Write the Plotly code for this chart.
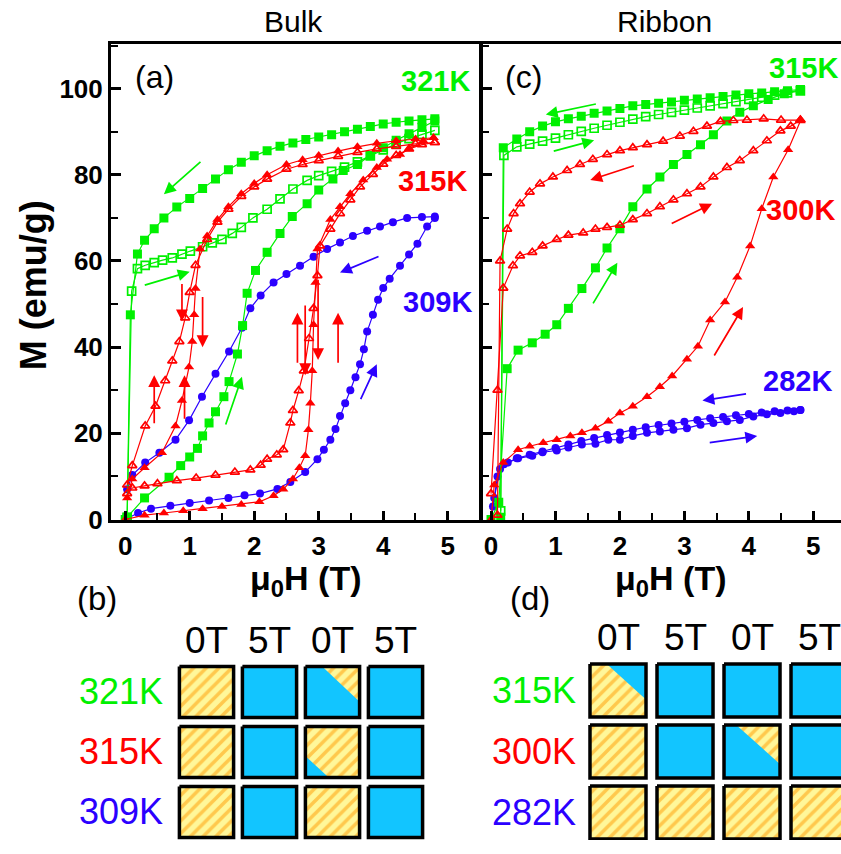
import plotly.graph_objects as go

W, H = 841, 854
def px(x): return x / W
def py(y): return 1 - y / H

GREEN = "#00F000"
RED = "#FF0000"
BLUE = "#2B00FF"
CYAN = "#12C5FF"
HATCH_BG = "#FFF79A"
HATCH_FG = "#FF9A00"
FONT = "Liberation Sans, Arial, sans-serif"

# ---------------- Bulk (a) ----------------
b321_vir_x = [0.0, 0.3, 0.68, 0.86, 1.0, 1.12, 1.2, 1.3, 1.4, 1.53, 1.61, 1.74, 1.82, 1.89, 2.02, 2.2, 2.4, 2.59, 2.82, 3.0, 3.22, 3.38, 3.6, 3.8, 4.0, 4.2, 4.4, 4.6, 4.8]
b321_vir_y = [0.0, 5.0, 9.8, 12.5, 14.5, 16.5, 19.4, 22.4, 25.0, 28.5, 32.0, 38.4, 45.0, 52.5, 57.8, 62.0, 66.4, 70.3, 73.3, 76.5, 79.0, 81.0, 82.4, 84.5, 86.3, 88.0, 89.5, 91.0, 92.5]
b321_dec_x = [4.8, 4.6, 4.4, 4.2, 4.0, 3.8, 3.6, 3.4, 3.2, 3.0, 2.8, 2.6, 2.4, 2.2, 2.0, 1.8, 1.6, 1.4, 1.2, 1.0, 0.8, 0.6, 0.45, 0.3, 0.19, 0.08, 0.03]
b321_dec_y = [93.0, 92.8, 92.5, 92.2, 91.8, 91.2, 90.6, 90.0, 89.3, 88.8, 88.2, 87.4, 86.6, 85.6, 84.4, 82.9, 81.2, 79.0, 76.8, 74.5, 72.5, 70.0, 67.5, 64.8, 61.6, 47.5, 0.5]
b321_open_x = [0.03, 0.1, 0.19, 0.31, 0.45, 0.58, 0.73, 0.88, 1.01, 1.2, 1.35, 1.5, 1.66, 1.8, 1.98, 2.2, 2.4, 2.6, 2.82, 3.0, 3.2, 3.4, 3.6, 3.8, 4.0, 4.2, 4.4, 4.6, 4.8]
b321_open_y = [0.5, 53.0, 58.2, 59.0, 59.6, 60.2, 60.7, 61.6, 62.3, 63.3, 64.2, 65.0, 66.4, 67.8, 70.0, 72.0, 74.4, 76.7, 78.7, 79.8, 80.8, 81.8, 83.0, 84.4, 85.8, 87.2, 88.4, 89.4, 90.3]

b315_vir_x = [0.0, 0.3, 0.6, 0.9, 1.2, 1.5, 1.8, 2.08, 2.3, 2.45, 2.6, 2.7, 2.79, 2.84, 2.87, 2.9, 2.92, 2.95, 2.98, 3.18, 3.33, 3.49, 3.69, 3.9, 4.06, 4.26, 4.4, 4.62, 4.78]
b315_vir_y = [0.0, 1.0, 1.5, 2.0, 2.5, 3.0, 3.5, 4.1, 5.5, 7.0, 9.4, 12.0, 14.8, 20.8, 27.0, 34.5, 45.2, 55.0, 62.8, 69.6, 72.6, 75.6, 78.8, 81.7, 83.6, 84.7, 86.0, 87.9, 88.6]
b315_dec_x = [4.78, 4.5, 4.2, 3.9, 3.6, 3.3, 3.0, 2.75, 2.5, 2.2, 2.0, 1.8, 1.6, 1.43, 1.27, 1.16, 1.09, 1.07, 1.04, 0.99, 0.88, 0.78, 0.57, 0.3, 0.11, 0.03]
b315_dec_y = [88.6, 88.3, 87.9, 87.3, 86.5, 85.5, 84.5, 83.5, 82.4, 80.0, 78.0, 75.6, 72.6, 69.6, 65.8, 62.8, 53.6, 47.5, 41.3, 35.4, 27.6, 21.7, 15.5, 12.0, 9.4, 5.0]
b315_open_inc_x = [0.03, 0.11, 0.3, 0.5, 0.8, 1.1, 1.4, 1.7, 1.94, 2.1, 2.2, 2.35, 2.45, 2.56, 2.6, 2.69, 2.77, 2.85, 2.92, 2.98, 3.02, 3.18, 3.33, 3.49, 3.64, 3.84, 4.0, 4.2, 4.4, 4.6, 4.8]
b315_open_inc_y = [6.0, 7.3, 7.8, 8.3, 9.0, 9.6, 10.3, 11.0, 11.5, 12.6, 14.0, 15.0, 16.2, 22.4, 25.3, 29.9, 34.5, 42.0, 49.0, 56.6, 63.5, 67.4, 71.0, 74.2, 77.2, 80.1, 82.5, 84.5, 86.0, 87.0, 87.5]
b315_open_dec_x = [4.8, 4.5, 4.2, 3.9, 3.6, 3.3, 3.0, 2.75, 2.5, 2.2, 2.0, 1.8, 1.6, 1.43, 1.27, 1.09, 1.0, 0.93, 0.84, 0.73, 0.62, 0.47, 0.31, 0.11, 0.03]
b315_open_dec_y = [87.5, 87.2, 86.6, 86.0, 85.2, 84.3, 83.3, 82.4, 81.3, 79.0, 77.2, 75.0, 72.0, 69.0, 65.0, 59.0, 52.7, 46.8, 41.3, 36.8, 32.2, 26.3, 21.7, 12.5, 8.0]

b309_inc_x = [0.0, 0.2, 0.4, 0.7, 1.0, 1.3, 1.6, 1.85, 2.09, 2.36, 2.56, 2.79, 2.98, 3.08, 3.18, 3.26, 3.33, 3.41, 3.49, 3.57, 3.64, 3.7, 3.75, 3.84, 3.92, 4.0, 4.1, 4.26, 4.4, 4.53, 4.68, 4.8]
b309_inc_y = [0.0, 1.5, 2.5, 3.2, 3.8, 4.4, 5.0, 5.6, 6.0, 7.1, 8.7, 11.0, 14.0, 16.2, 18.5, 21.0, 24.0, 27.0, 30.0, 33.0, 36.0, 39.5, 43.6, 47.5, 51.0, 53.7, 55.9, 58.9, 61.5, 64.0, 68.0, 70.0]
b309_dec_x = [4.8, 4.6, 4.37, 4.15, 3.95, 3.75, 3.53, 3.33, 3.13, 2.92, 2.71, 2.5, 2.3, 2.1, 1.94, 1.81, 1.61, 1.4, 1.19, 0.99, 0.78, 0.53, 0.31, 0.11, 0.03]
b309_dec_y = [70.3, 70.2, 70.0, 69.0, 68.0, 67.0, 65.8, 64.3, 62.8, 61.0, 58.9, 57.0, 55.0, 52.0, 49.0, 44.5, 39.0, 33.8, 28.5, 23.0, 18.5, 15.5, 13.2, 10.3, 7.0]

# ---------------- Ribbon (c) ----------------
r315_dec_x = [4.8, 4.6, 4.4, 4.2, 4.0, 3.8, 3.6, 3.4, 3.2, 3.0, 2.8, 2.6, 2.4, 2.2, 2.0, 1.8, 1.6, 1.4, 1.2, 1.0, 0.8, 0.6, 0.4, 0.19, 0.15]
r315_dec_y = [99.8, 99.5, 99.3, 99.0, 98.8, 98.5, 98.2, 97.9, 97.6, 97.3, 96.9, 96.6, 96.3, 96.0, 95.4, 94.8, 94.3, 93.6, 93.0, 92.3, 91.3, 90.0, 88.3, 86.3, 0.5]
r315_vir_x = [0.0, 0.12, 0.25, 0.42, 0.64, 0.84, 1.02, 1.2, 1.41, 1.62, 1.8, 2.0, 2.2, 2.42, 2.62, 2.83, 3.04, 3.25, 3.45, 3.66, 3.86, 4.07, 4.3, 4.55, 4.8]
r315_vir_y = [0.0, 4.0, 35.0, 39.3, 41.0, 43.0, 45.2, 49.0, 53.6, 58.4, 63.0, 67.5, 72.6, 76.7, 79.5, 82.4, 84.7, 87.0, 89.3, 92.5, 94.5, 96.0, 97.5, 98.8, 99.8]
r315_open_x = [0.15, 0.2, 0.4, 0.6, 0.8, 1.0, 1.2, 1.4, 1.6, 1.8, 2.0, 2.2, 2.4, 2.6, 2.8, 3.0, 3.2, 3.4, 3.6, 3.8, 4.0, 4.2, 4.4, 4.6, 4.8]
r315_open_y = [2.0, 84.5, 86.5, 87.1, 87.8, 88.5, 89.3, 90.1, 90.8, 91.5, 92.2, 92.9, 93.5, 94.0, 94.5, 95.0, 95.5, 96.0, 96.5, 97.0, 97.5, 98.0, 98.5, 99.0, 99.5]

r300_vir_x = [0.0, 0.05, 0.19, 0.42, 0.6, 0.81, 1.02, 1.23, 1.41, 1.62, 1.82, 2.0, 2.2, 2.42, 2.62, 2.81, 3.04, 3.21, 3.4, 3.63, 3.82, 4.02, 4.2, 4.38, 4.61, 4.8]
r300_vir_y = [0.0, 8.0, 13.2, 16.2, 17.0, 17.8, 18.5, 19.4, 20.1, 21.2, 22.8, 24.7, 26.3, 28.5, 30.8, 33.3, 37.2, 40.2, 46.3, 50.5, 56.2, 63.5, 72.1, 79.5, 85.8, 92.5]
r300_dec_x = [4.8, 4.5, 4.23, 3.97, 3.76, 3.56, 3.35, 3.14, 2.93, 2.67, 2.42, 2.2, 2.0, 1.8, 1.58, 1.38, 1.18, 0.96, 0.76, 0.6, 0.45, 0.35, 0.25, 0.14, 0.1]
r300_dec_y = [92.7, 92.7, 93.0, 92.7, 92.6, 92.4, 91.3, 90.1, 89.0, 87.8, 87.0, 86.3, 85.6, 84.7, 83.6, 82.4, 81.0, 79.5, 77.9, 76.0, 73.3, 71.0, 67.4, 60.0, 1.0]
r300_inc_x = [0.0, 0.1, 0.19, 0.34, 0.45, 0.64, 0.8, 1.02, 1.2, 1.43, 1.62, 1.8, 2.0, 2.2, 2.42, 2.62, 2.83, 3.04, 3.25, 3.45, 3.66, 3.86, 4.07, 4.28, 4.49, 4.65, 4.8]
r300_inc_y = [6.0, 30.0, 53.7, 58.9, 61.2, 62.0, 63.5, 65.0, 66.0, 66.5, 67.4, 67.8, 68.3, 69.6, 71.0, 72.6, 74.2, 75.6, 77.2, 79.5, 81.7, 83.3, 85.6, 87.9, 90.2, 91.3, 92.7]

r282_inc_x = [0.0, 0.05, 0.14, 0.26, 0.42, 0.64, 0.8, 1.02, 1.2, 1.41, 1.62, 1.82, 2.0, 2.2, 2.42, 2.62, 2.83, 3.04, 3.25, 3.45, 3.66, 3.86, 4.07, 4.28, 4.49, 4.7, 4.8]
r282_inc_y = [0.0, 5.0, 11.7, 13.2, 14.2, 14.8, 15.6, 16.0, 16.7, 17.4, 17.6, 18.5, 18.5, 19.4, 20.1, 20.4, 20.8, 21.2, 22.0, 22.4, 22.8, 23.1, 23.9, 24.4, 24.7, 25.1, 25.4]
r282_dec_x = [4.8, 4.6, 4.4, 4.2, 4.0, 3.8, 3.6, 3.4, 3.2, 3.0, 2.8, 2.6, 2.4, 2.2, 2.0, 1.8, 1.6, 1.4, 1.2, 1.0, 0.8, 0.6, 0.4, 0.2, 0.1, 0.03]
r282_dec_y = [25.4, 25.3, 25.1, 24.8, 24.5, 24.2, 23.8, 23.5, 23.1, 22.7, 22.3, 21.9, 21.4, 20.8, 20.2, 19.6, 18.9, 18.2, 17.4, 16.6, 15.8, 15.0, 14.2, 12.8, 10.0, 3.0]

# arrows: (panel, tail_x, tail_y, head_x, head_y, color)
arrows = [
    ("a", 1.19, 83.3, 0.6, 75.5, GREEN),
    ("a", 0.28, 54.3, 1.0, 57.5, GREEN),
    ("a", 1.55, 21.7, 1.81, 33.1, GREEN),
    ("a", 3.95, 61.2, 3.33, 57.3, BLUE),
    ("a", 3.64, 27.6, 3.9, 36.0, BLUE),
    ("a", 1.2, 52.0, 1.2, 40.0, RED),
    ("a", 0.88, 55.0, 0.88, 46.0, RED),
    ("a", 0.45, 22.0, 0.45, 33.5, RED),
    ("a", 0.92, 23.0, 0.92, 33.5, RED),
    ("a", 2.67, 36.0, 2.67, 48.0, RED),
    ("a", 3.3, 36.0, 3.3, 48.0, RED),
    ("a", 2.99, 56.0, 2.99, 37.0, RED),
    ("a", 2.79, 50.0, 2.79, 33.5, RED),
    ("c", 1.65, 96.5, 0.85, 94.0, GREEN),
    ("c", 0.95, 85.4, 1.6, 88.0, GREEN),
    ("c", 1.57, 49.8, 1.96, 59.6, GREEN),
    ("c", 2.24, 82.2, 1.54, 78.8, RED),
    ("c", 2.78, 68.5, 3.43, 73.3, RED),
    ("c", 3.45, 37.7, 3.91, 49.3, RED),
    ("c", 3.98, 29.2, 3.28, 27.6, BLUE),
    ("c", 3.37, 17.8, 4.13, 19.4, BLUE),
]

# ---------------- state grids (b), (d) ----------------
field_labels = ["0T", "5T", "0T", "5T"]
bulk_temps = ["321K", "315K", "309K"]
ribbon_temps = ["315K", "300K", "282K"]
temp_colors = [GREEN, RED, BLUE]
bulk_base = [["H", "C", "C", "C"], ["H", "C", "H", "C"], ["H", "C", "H", "C"]]
ribbon_base = [["H", "C", "C", "C"], ["H", "C", "C", "C"], ["H", "H", "H", "H"]]
# (row, col, corner, a, b, kind)
bulk_tri = [(0, 2, "tr", 0.31, 0.69, "H"), (1, 2, "bl", 0.58, 0.43, "C")]
ribbon_tri = [(0, 0, "tr", 0.30, 0.67, "C"), (1, 2, "tr", 0.22, 0.74, "H")]

fig = go.Figure()

def curve(x, y, color, symbol, xa, ya, open_=False, size=9):
    fig.add_trace(go.Scatter(
        x=x, y=y, mode="lines+markers", xaxis=xa, yaxis=ya,
        line=dict(color=color, width=1.2),
        marker=dict(symbol=symbol, size=size, color=color,
                    line=dict(color=color, width=1.7 if open_ else 0)),
        showlegend=False, hoverinfo="skip"))

curve(b309_inc_x, b309_inc_y, BLUE, "circle", "x", "y", size=8)
curve(b309_dec_x, b309_dec_y, BLUE, "circle", "x", "y", size=8)
curve(b321_vir_x, b321_vir_y, GREEN, "square", "x", "y")
curve(b321_dec_x, b321_dec_y, GREEN, "square", "x", "y")
curve(b321_open_x, b321_open_y, GREEN, "square-open", "x", "y", open_=True, size=8)
curve(b315_open_inc_x, b315_open_inc_y, RED, "triangle-up-open", "x", "y", open_=True, size=8)
curve(b315_open_dec_x, b315_open_dec_y, RED, "triangle-up-open", "x", "y", open_=True, size=8)
curve(b315_vir_x, b315_vir_y, RED, "triangle-up", "x", "y")
curve(b315_dec_x, b315_dec_y, RED, "triangle-up", "x", "y")

curve(r282_inc_x, r282_inc_y, BLUE, "circle", "x2", "y2", size=8)
curve(r282_dec_x, r282_dec_y, BLUE, "circle", "x2", "y2", size=8)
curve(r315_vir_x, r315_vir_y, GREEN, "square", "x2", "y2")
curve(r315_dec_x, r315_dec_y, GREEN, "square", "x2", "y2")
curve(r315_open_x, r315_open_y, GREEN, "square-open", "x2", "y2", open_=True, size=8)
curve(r300_inc_x, r300_inc_y, RED, "triangle-up-open", "x2", "y2", open_=True, size=8)
curve(r300_dec_x, r300_dec_y, RED, "triangle-up-open", "x2", "y2", open_=True, size=8)
curve(r300_vir_x, r300_vir_y, RED, "triangle-up", "x2", "y2")

for panel, tx, ty, hx, hy, col in arrows:
    xr, yr = ("x", "y") if panel == "a" else ("x2", "y2")
    fig.add_annotation(x=hx, y=hy, ax=tx, ay=ty, xref=xr, yref=yr, axref=xr, ayref=yr,
                       showarrow=True, arrowhead=2, arrowsize=1.4, arrowwidth=1.7,
                       arrowcolor=col, text="", standoff=0)

# cells
def fill_trace(xs, ys, kind, xa, ya):
    if kind == "H":
        return go.Scatter(x=xs, y=ys, fill="toself", mode="none", fillcolor=HATCH_BG,
                          fillpattern=dict(shape="/", bgcolor=HATCH_BG, fgcolor=HATCH_FG,
                                           size=9, solidity=0.4),
                          xaxis=xa, yaxis=ya, showlegend=False, hoverinfo="skip")
    return go.Scatter(x=xs, y=ys, fill="toself", mode="none", fillcolor=CYAN,
                      xaxis=xa, yaxis=ya, showlegend=False, hoverinfo="skip")

def draw_grid(base, tris, xa, ya, hx, hy):
    for r, row in enumerate(base):
        for c, kind in enumerate(row):
            L, R, T, B = c - hx, c + hx, r - hy, r + hy
            fig.add_trace(fill_trace([L, R, R, L, L], [T, T, B, B, T], kind, xa, ya))
    for r, c, corner, a, b, kind in tris:
        L, R, T, B = c - hx, c + hx, r - hy, r + hy
        w, h = R - L, B - T
        if corner == "tr":
            xs, ys = [L + a * w, R, R, L + a * w], [T, T, T + b * h, T]
        else:
            xs, ys = [L, L, L + b * w, L], [T + a * h, B, B, T + a * h]
        fig.add_trace(fill_trace(xs, ys, kind, xa, ya))
    for r, row in enumerate(base):
        for c, _ in enumerate(row):
            L, R, T, B = c - hx, c + hx, r - hy, r + hy
            fig.add_trace(go.Scatter(x=[L, R, R, L, L], y=[T, T, B, B, T], mode="lines",
                                     line=dict(color="black", width=3.5), xaxis=xa, yaxis=ya,
                                     showlegend=False, hoverinfo="skip"))

draw_grid(bulk_base, bulk_tri, "x3", "y3", 0.43, 0.426)
draw_grid(ribbon_base, ribbon_tri, "x4", "y4", 0.418, 0.435)

def text(s, x, y, size, color="black", bold=False, **kw):
    fig.add_annotation(text=s, x=px(x), y=py(y), xref="paper", yref="paper", showarrow=False,
                       font=dict(family=FONT, size=size, color=color,
                                 weight="bold" if bold else "normal"),
                       xanchor="center", yanchor="middle", **kw)

text("Bulk", 293, 22, 30)
text("Ribbon", 664, 22, 30)
text("(a)", 154, 78, 32)
text("(c)", 523, 78, 32)
text("321K", 435, 82, 29, GREEN, True)
text("315K", 432, 184, 29, RED, True)
text("309K", 437, 307, 29, BLUE, True)
text("315K", 803, 69, 29, GREEN, True)
text("300K", 800, 213, 29, RED, True)
text("282K", 797, 387, 29, BLUE, True)
text("M (emu/g)", 33, 290, 36, bold=True, textangle=-90)
text("μ<sub>0</sub>H (T)", 305, 590, 34, bold=True)
text("μ<sub>0</sub>H (T)", 670, 590, 34, bold=True)
text("(b)", 97, 608, 33)
text("(d)", 530, 608, 33)

for i, lab in enumerate(field_labels):
    fig.add_annotation(text=lab, x=i, y=py(651), xref="x3", yref="paper", showarrow=False,
                       font=dict(family=FONT, size=37, color="black"), xanchor="center", yanchor="middle")
    fig.add_annotation(text=lab, x=i, y=py(648), xref="x4", yref="paper", showarrow=False,
                       font=dict(family=FONT, size=37, color="black"), xanchor="center", yanchor="middle")
for r in range(3):
    fig.add_annotation(text=bulk_temps[r], x=px(121), y=r, xref="paper", yref="y3", showarrow=False,
                       font=dict(family=FONT, size=36, color=temp_colors[r]), xanchor="center", yanchor="middle")
    fig.add_annotation(text=ribbon_temps[r], x=px(534), y=r, xref="paper", yref="y4", showarrow=False,
                       font=dict(family=FONT, size=36, color=temp_colors[r]), xanchor="center", yanchor="middle")

tickfont = dict(family=FONT, size=26, color="black", weight="bold")
xcommon = dict(showline=True, linecolor="black", linewidth=3, mirror=True, ticks="inside",
               ticklen=9, tickwidth=2.5, tickcolor="black", dtick=1, tick0=0,
               minor=dict(ticks="inside", ticklen=7, tickwidth=2, tickcolor="black", dtick=0.5),
               showgrid=False, zeroline=False, tickfont=tickfont)
ycommon = dict(showline=True, linecolor="black", linewidth=3, ticks="inside",
               ticklen=10, tickwidth=2.5, tickcolor="black", dtick=20, tick0=0,
               minor=dict(ticks="inside", ticklen=7, tickwidth=2, tickcolor="black", dtick=10),
               showgrid=False, zeroline=False, tickfont=tickfont, range=[-0.2, 110.3])

fig.update_layout(
    width=W, height=H, margin=dict(l=0, r=0, t=0, b=0),
    paper_bgcolor="white", plot_bgcolor="white", showlegend=False,
    xaxis=dict(domain=[px(111), px(480)], range=[-0.22, 5.5], anchor="y", **xcommon),
    yaxis=dict(domain=[py(529), py(45)], anchor="x", mirror=True, **ycommon),
    xaxis2=dict(domain=[px(482), 1.0], range=[-0.14, 5.43], anchor="y2", **xcommon),
    yaxis2=dict(domain=[py(529), py(45)], anchor="x2", showticklabels=False, **ycommon),
    xaxis3=dict(domain=[px(175), px(427)], range=[-0.5, 3.5], anchor="y3", visible=False),
    yaxis3=dict(domain=[0, py(672)], range=[2.467, -0.516], anchor="x3", visible=False),
    xaxis4=dict(domain=[px(584.5), 1.0], range=[-0.5, 3.328], anchor="y4", visible=False),
    yaxis4=dict(domain=[0, py(670)], range=[2.452, -0.516], anchor="x4", visible=False),
)

fig.write_html("out.html")
